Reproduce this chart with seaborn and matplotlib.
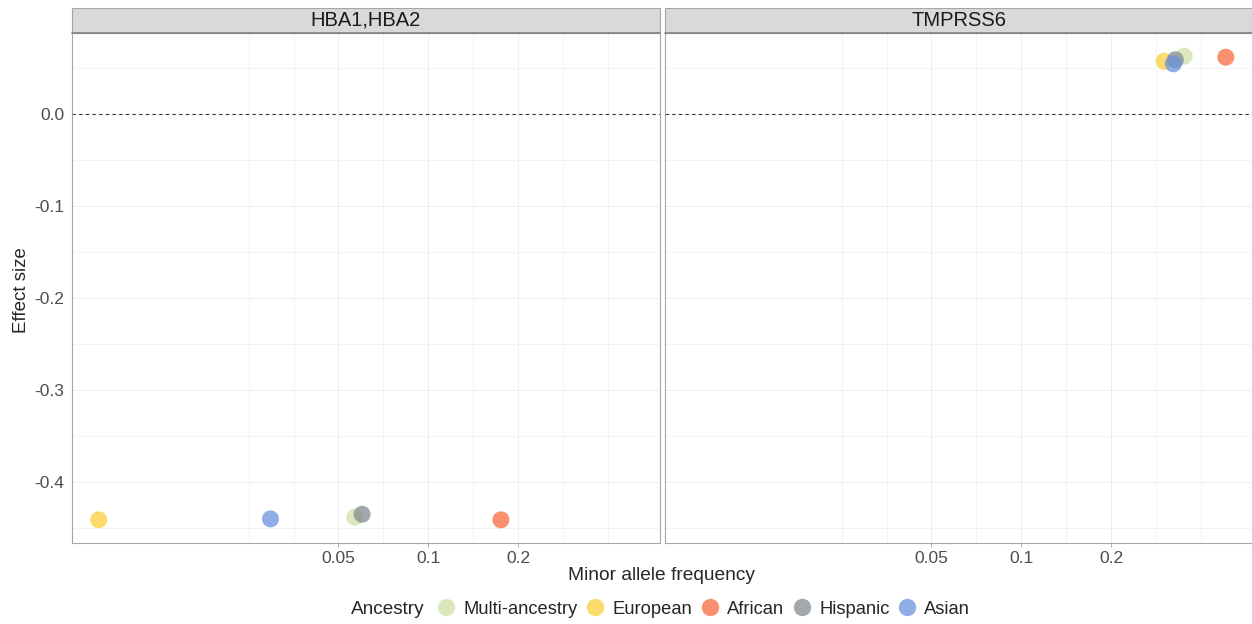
import pandas as pd
import numpy as np
import matplotlib
matplotlib.use('Agg')
import matplotlib.pyplot as plt
from matplotlib.lines import Line2D
from matplotlib.patches import Rectangle
import seaborn as sns

sns.set_style('white')
plt.rcParams['font.family'] = ['Liberation Sans', 'DejaVu Sans']

# data
genes = ['HBA1,HBA2', 'TMPRSS6']
ancestries = ['Multi-ancestry', 'European', 'African', 'Hispanic', 'Asian']
maf_hba = [0.0567, 0.00787, 0.175, 0.0600, 0.0296]
beta_hba = [-0.438, -0.441, -0.441, -0.435, -0.440]
maf_tmprss6 = [0.351, 0.301, 0.484, 0.328, 0.323]
beta_tmprss6 = [0.0634, 0.0579, 0.0623, 0.0595, 0.0551]
colors = ['#d0e0a6', '#fccf3c', '#f76b3f', '#848b90', '#6a93de']
x_breaks = [0.05, 0.1, 0.2]
x_labels = ['0.05', '0.1', '0.2']
y_breaks = [0.0, -0.1, -0.2, -0.3, -0.4]
y_labels = ['0.0', '-0.1', '-0.2', '-0.3', '-0.4']

df = pd.DataFrame({
    'gene': [genes[0]] * 5 + [genes[1]] * 5,
    'ancestry': ancestries * 2,
    'maf': maf_hba + maf_tmprss6,
    'beta': beta_hba + beta_tmprss6,
})
palette = dict(zip(ancestries, colors))

# limits with 5% expansion like ggplot
lx = np.log10(df['maf'])
pad = (lx.max() - lx.min()) * 0.05
xlim = (10 ** (lx.min() - pad), 10 ** (lx.max() + pad))
ypad = (df['beta'].max() - df['beta'].min()) * 0.05
ylim = (df['beta'].min() - ypad, df['beta'].max() + ypad)

W, H = 1252, 624
fig = plt.figure(figsize=(W / 100, H / 100), dpi=100)
ax1 = fig.add_axes([72 / W, 1 - 543 / H, 587.5 / W, 510 / H])
ax2 = fig.add_axes([665 / W, 1 - 543 / H, 587.5 / W, 510 / H])

grid_c = '#ebebeb'
border_c = '#a6a6a6'
for ax, gene in zip([ax1, ax2], genes):
    sub = df[df['gene'] == gene]
    ax.set_xscale('log')
    ax.set_xlim(xlim)
    ax.set_ylim(ylim)
    # grid: major + ggplot-style minor lines
    lmaj = np.log10(x_breaks)
    step = lmaj[1] - lmaj[0]
    ext = np.concatenate([[lmaj[0] - step], lmaj, [lmaj[-1] + step]])
    minors = [(a + b) / 2 for a, b in zip(ext[:-1], ext[1:])]
    for v in list(ext) + minors:
        ax.axvline(10 ** v, color=grid_c, lw=0.6 if v in lmaj else 0.4, zorder=0)
    for v in y_breaks:
        ax.axhline(v, color=grid_c, lw=0.6, zorder=0)
    for v in np.arange(0.05, -0.5, -0.1):
        ax.axhline(v, color=grid_c, lw=0.4, zorder=0)
    ax.axhline(0, color='#333333', lw=0.8, ls=(0, (3, 3)), zorder=1)

    sns.scatterplot(data=sub, x='maf', y='beta', hue='ancestry', hue_order=ancestries,
                    palette=palette, s=150, alpha=0.75, edgecolor='none',
                    legend=False, ax=ax, zorder=3)

    ax.set_xticks(x_breaks)
    ax.set_xticklabels(x_labels)
    ax.xaxis.set_minor_locator(matplotlib.ticker.NullLocator())
    ax.set_yticks(y_breaks)
    ax.set_xlabel('')
    ax.set_ylabel('')
    ax.tick_params(axis='both', length=3, width=0.6, color=border_c,
                   labelsize=12.5, labelcolor='#4d4d4d', pad=2.5, bottom=True)
    for sp in ax.spines.values():
        sp.set_color(border_c)
        sp.set_linewidth(0.8)
    # strip
    ax.add_patch(Rectangle((0, 1), 1, 25 / 510, transform=ax.transAxes,
                           facecolor='#d9d9d9', edgecolor=border_c, lw=0.8,
                           clip_on=False, zorder=5))
    ax.plot([0, 1], [1, 1], transform=ax.transAxes, color='#808080', lw=1.2,
            clip_on=False, zorder=6)
    ax.text(0.5, 1 + 13 / 510, gene, transform=ax.transAxes, ha='center',
            va='center', fontsize=14.5, color='#1a1a1a', zorder=7)

ax1.set_yticklabels(y_labels)
ax2.set_yticklabels([])
ax2.tick_params(axis='y', left=False)

fig.text(662 / W, 1 - 576 / H, 'Minor allele frequency', ha='center', va='center',
         fontsize=13.8)
fig.text(22 / W, 1 - 290 / H, 'Effect size', ha='center', va='center',
         rotation=90, fontsize=13.5)

handles = [Line2D([0], [0], marker='o', ls='none', markersize=12.5,
                  markerfacecolor=c, markeredgecolor='none', alpha=0.75) for c in colors]
fig.text(351 / W, 1 - 609 / H, 'Ancestry', ha='left', va='center', fontsize=13.7)
fig.legend(handles, ancestries, loc='center left', ncol=5,
           bbox_to_anchor=(437 / W, 1 - 609 / H), frameon=False,
           fontsize=13.2, handlelength=1.0, handletextpad=0.45, columnspacing=0.45,
           borderpad=0, borderaxespad=0)

fig.savefig('out.png', dpi=100)
plt.close()
